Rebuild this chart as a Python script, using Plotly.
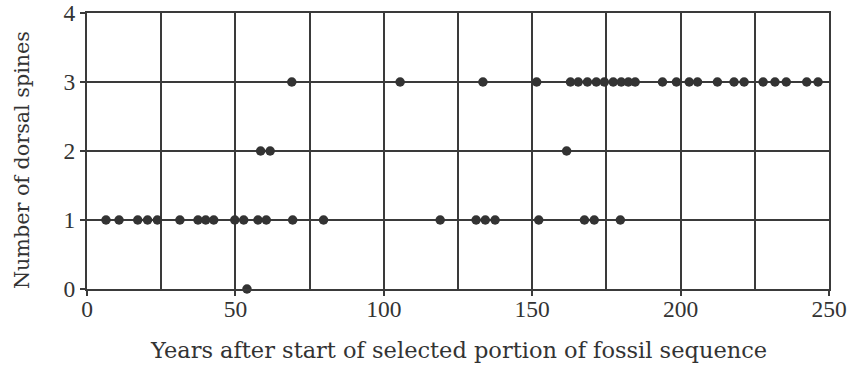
import plotly.graph_objects as go

# Years for each spine count
years_0 = [53.9]
years_1 = [6.4, 10.8, 17.1, 20.4, 23.7, 31.3, 37.4, 40.0, 42.7, 49.8, 52.8,
           57.6, 60.4, 69.3, 79.7, 119.0, 131.1, 134.2, 137.5, 152.2,
           167.6, 170.9, 179.7]
years_2 = [58.5, 61.7, 161.6]
years_3 = [69.0, 105.5, 133.4, 151.5, 162.9, 165.5, 168.6, 171.6, 174.3,
           177.3, 180.0, 182.4, 184.7, 193.9, 198.6, 202.9, 205.7, 212.4,
           218.0, 221.4, 227.8, 231.8, 235.6, 242.5, 246.3]

x_ticks = [0, 50, 100, 150, 200, 250]
y_ticks = [0, 1, 2, 3, 4]
x_title = "Years after start of selected portion of fossil sequence"
y_title = "Number of dorsal spines"

xs = years_0 + years_1 + years_2 + years_3
ys = [0] * len(years_0) + [1] * len(years_1) + [2] * len(years_2) + [3] * len(years_3)

TICKFONT = "Liberation Serif"
TITLEFONT = "DejaVu Serif"
INK = "#3a3a3a"
TEXT = "#333333"
LW = 2

fig = go.Figure()
fig.add_trace(go.Scatter(
    x=xs, y=ys, mode="markers",
    marker=dict(size=9.5, color="#333333", line=dict(width=0)),
    cliponaxis=False, showlegend=False, hoverinfo="skip",
))

fig.update_layout(
    width=847, height=369,
    margin=dict(l=87, r=18, t=13, b=80),
    paper_bgcolor="white", plot_bgcolor="white",
    font=dict(family=TICKFONT, size=23.5, color=TEXT),
    annotations=[
        dict(text=x_title, xref="paper", yref="paper", x=0.5, y=-0.221,
             xanchor="center", yanchor="middle", showarrow=False,
             font=dict(family=TITLEFONT, size=22.5, color=TEXT)),
        dict(text=y_title, xref="paper", yref="paper", x=-0.0876, y=0.467,
             xanchor="center", yanchor="middle", showarrow=False, textangle=-90,
             font=dict(family=TITLEFONT, size=20.7, color=TEXT)),
    ],
)
fig.update_xaxes(
    range=[0, 250], tickvals=x_ticks, ticktext=[str(v) for v in x_ticks],
    showgrid=True, gridcolor=INK, gridwidth=LW,
    minor=dict(dtick=25, tick0=0, showgrid=True, gridcolor=INK, gridwidth=LW),
    showline=True, linecolor=INK, linewidth=LW, mirror=True,
    ticks="outside", ticklen=5, tickcolor=INK, tickwidth=LW,
    ticklabelstandoff=-7,
    zeroline=False, automargin=False,
    tickfont=dict(family=TICKFONT, size=23.5, color=TEXT),
)
fig.update_yaxes(
    range=[0, 4], tickvals=y_ticks,
    showgrid=True, gridcolor=INK, gridwidth=LW,
    showline=True, linecolor=INK, linewidth=LW, mirror=True,
    ticks="outside", ticklen=5, tickcolor=INK, tickwidth=LW,
    zeroline=False, automargin=False,
    tickfont=dict(family=TICKFONT, size=23.5, color=TEXT),
)

# remove the page's default 8px body margin so the figure fills the window
fig.write_html(
    "out.html",
    config={"displayModeBar": False, "staticPlot": True},
    post_script="document.body.style.margin='0';document.body.style.overflow='hidden';",
)
